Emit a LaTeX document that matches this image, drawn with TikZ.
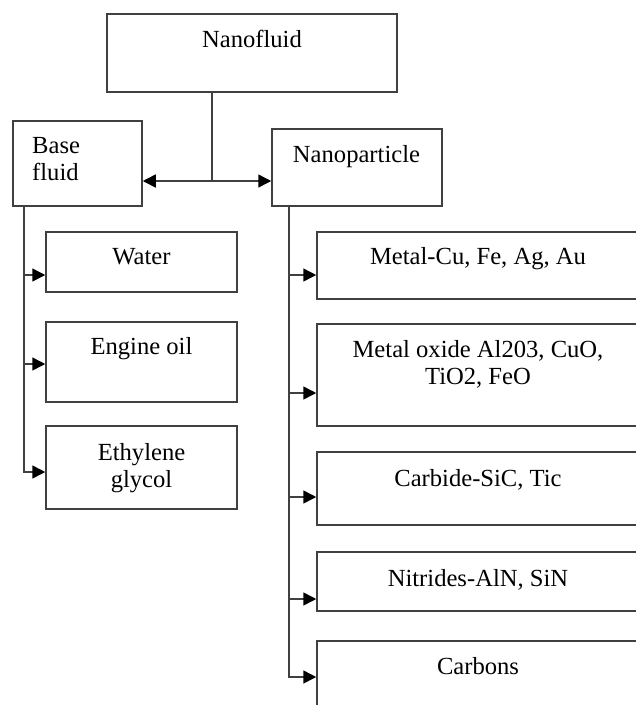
\documentclass[tikz,border=0pt]{standalone}
\usepackage{fontspec}
\setmainfont{Liberation Serif}
\usetikzlibrary{arrows.meta}
\tikzset{
  box/.style={draw=black!75, line width=1.5pt, rectangle, inner sep=0pt},
  lbl/.style={anchor=base, inner sep=0pt, font=\fontsize{24.6}{27}\selectfont, align=center},
  conn/.style={draw=black!75, line width=1.5pt},
  arr/.style={conn, -{Triangle[length=13pt,width=13pt,fill=black,color=black]}},
  darr/.style={conn, {Triangle[length=13pt,width=13pt,fill=black,color=black]}-{Triangle[length=13pt,width=13pt,fill=black,color=black]}}
}
\begin{document}
\begin{tikzpicture}[x=1pt,y=-1pt]
\useasboundingbox (0,0) rectangle (636,705);
\clip (0,0) rectangle (636,705);
% boxes
\node[box, minimum width=290pt, minimum height=78pt] (nf) at (252,53) {};
\node[box, minimum width=129pt, minimum height=85pt] (bf) at (77.5,163.5) {};
\node[box, minimum width=170pt, minimum height=77pt] (np) at (357,167.5) {};
\node[box, minimum width=191pt, minimum height=60pt] (wa) at (141.5,262) {};
\node[box, minimum width=191pt, minimum height=80pt] (eo) at (141.5,362) {};
\node[box, minimum width=191pt, minimum height=83pt] (eg) at (141.5,467.5) {};
\node[box, minimum width=323pt, minimum height=67pt] (mc) at (478.5,265.5) {};
\node[box, minimum width=323pt, minimum height=102pt] (mo) at (478.5,375) {};
\node[box, minimum width=323pt, minimum height=73pt] (cb) at (478.5,488.5) {};
\node[box, minimum width=323pt, minimum height=59pt] (nt) at (478.5,581.5) {};
\node[box, minimum width=323pt, minimum height=89pt] (cn) at (478.5,685.5) {};
% texts (base anchor = baseline of last line)
\node[lbl] (tnf) at (252,47) {Nanofluid};
\node[lbl, anchor=base west, align=left] (tbf) at (32,180) {Base\\fluid};
\node[lbl] (tnp) at (356.5,162) {Nanoparticle};
\node[lbl] (twa) at (141.5,264) {Water};
\node[lbl] (teo) at (141.5,354) {Engine oil};
\node[lbl] (teg) at (141.5,487) {Ethylene\\glycol};
\node[lbl] (tmc) at (478,264) {Metal-Cu, Fe, Ag, Au};
\node[lbl] (tmo) at (478,384) {Metal oxide Al203, CuO,\\TiO2, FeO};
\node[lbl] (tcb) at (478,486) {Carbide-SiC, Tic};
\node[lbl] (tnt) at (478,586) {Nitrides-AlN, SiN};
\node[lbl] (tcn) at (478,674) {Carbons};
% connectors
\coordinate (j) at (212,181);
\draw[conn] (j |- nf.south) -- (j);
\draw[darr] (bf.east |- j) -- (np.west |- j);
\coordinate (ls) at (24,472);
\draw[arr] (bf.south -| ls) |- (eg.west |- ls);
\draw[arr] (24,275) -- (wa.west |- 0,275);
\draw[arr] (24,364) -- (eo.west |- 0,364);
\coordinate (rs) at (289,677);
\draw[arr] (np.south -| rs) |- (cn.west |- rs);
\draw[arr] (289,275) -- (mc.west |- 0,275);
\draw[arr] (289,393) -- (mo.west |- 0,393);
\draw[arr] (289,497) -- (cb.west |- 0,497);
\draw[arr] (289,599) -- (nt.west |- 0,599);
\end{tikzpicture}
\end{document}
